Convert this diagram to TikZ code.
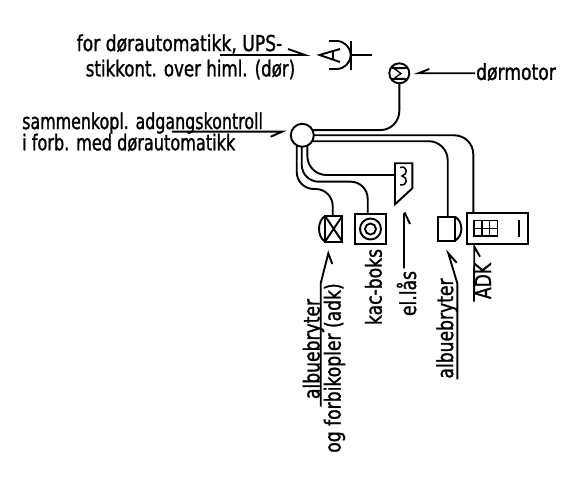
\documentclass[tikz,border=0pt]{standalone}
\usepackage{fontspec}
\setmainfont[FakeStretch=0.78,FakeBold=1.2]{DejaVu Sans}
\tikzset{
  wire/.style={line width=1.9pt,rounded corners=19pt},
  sym/.style={draw,line width=1.9pt,inner sep=0pt,outer sep=0pt},
  lead/.style={line width=1.9pt,line join=miter},
  lbl/.style={inner sep=0pt,font=\fontsize{22}{22}\selectfont},
  vlbl/.style={lbl,rotate=90}
}
\begin{document}
\begin{tikzpicture}[x=1pt,y=-1pt]
\useasboundingbox (0,0) rectangle (569,478);
% texts
\node[lbl] (t1) at (179.5,44) {for dørautomatikk, UPS-};
\node[lbl] (t2) at (190.5,69.5) {\scalebox{.97}[1]{stikkont. over himl. (dør)}};
\node[lbl,anchor=west] (t3) at (22,123) {\scalebox{.925}[1]{sammenkopl. adgangskontroll}};
\node[lbl,anchor=west] (t4) at (22,142.5) {\scalebox{.94}[1]{i forb. med dørautomatikk}};
\node[lbl] (t5) at (516,72) {dørmotor};
\node[vlbl] (t6) at (313.5,349) {albuebryter};
\node[vlbl] (t7) at (334.5,368) {og forbikopler (adk)};
\node[vlbl] (t8) at (373.5,287) {kac-boks};
\node[vlbl] (t9) at (406.5,293.5) {el.lås};
\node[vlbl] (t10) at (447,328.5) {albuebryter};
\node[vlbl] (t11) at (483,281) {ADK};
% socket
\draw[lead] (329,41) -- (336.6,41) arc (-90:90:14) -- (329,69);
\draw[lead] (350.6,41) -- (350.6,70);
\draw[lead] (350.6,55) -- (371.7,55);
\draw[lead] (340,49) -- (319.5,55) -- (340,62);
\draw[lead] (333,50.5) -- (333,60);
% motor
\node[sym,circle,minimum size=20pt] (mot) at (399.3,73.3) {};
\draw[line width=1.3pt] (392,68) -- (406.6,68) (392,79) -- (406.6,79);
\draw[line width=1.3pt] (405,68.5) -- (394,68.5) -- (401,73.5) -- (394,78.5) -- (405,78.5);
% junction
\node[sym,circle,minimum size=23pt] (j) at (302.3,135.3) {};
% X box
\node[sym,rectangle,minimum width=17.3pt,minimum height=25.7pt] (xb) at (333.7,228.8) {};
\draw[lead] (xb.north west) -- (xb.south east) (xb.north east) -- (xb.south west);
\draw[lead] (xb.north west) .. controls (317,221) and (317,236.6) .. (xb.south west);
% kac box
\node[sym,rectangle,minimum width=31pt,minimum height=30pt] (kac) at (370.5,229) {};
\node[sym,circle,minimum size=21pt] (kac1) at (kac.center) {};
\node[sym,circle,minimum size=11pt] (kac2) at (kac.center) {};
% lock
\coordinate (lock) at (395,175);
\draw[lead] (395,163.3) -- (412.3,163.3) -- (412.3,188.3) -- (395,204.3) -- cycle;
\draw[line width=1.5pt] (400,167.5) .. controls (408,165) and (408,175) .. (402,176) .. controls (408,177) and (408,186) .. (400,185);
% door-side device
\node[sym,rectangle,minimum width=17.3pt,minimum height=24pt] (alb) at (446.4,228.7) {};
\draw[lead] (alb.north east) .. controls (463.5,222) and (463.5,235.4) .. (alb.south east);
% ADK panel
\node[sym,rectangle,minimum width=61.6pt,minimum height=30.7pt] (adk) at (497.5,228.7) {};
\draw[line width=1.5pt] (474,220.7) rectangle (497.3,236);
\draw[line width=1.5pt] (474,228.3) -- (497.3,228.3) (481.8,220.7) -- (481.8,236) (489.5,220.7) -- (489.5,236);
\draw[lead] (519.3,220) -- (519.3,236.7);
% wires
\coordinate (pA) at ([xshift=-1pt]xb.north);
\coordinate (pB) at ([xshift=-2.8pt]kac.north);
\coordinate (yA) at (0,189);
\coordinate (yB) at (0,181.7);
\draw[wire] (j.27) -| (mot.south);
\draw[wire] (j.0) -| ([xshift=-24.2pt]adk.north);
\draw[wire] (j.-31) -| ([xshift=1.3pt]alb.north);
\draw[wire,rounded corners=17pt] (j.-119) |- (pA |- yA) -- (pA);
\draw[wire,rounded corners=17pt] (j.-93) |- (pB |- yB) -- (pB);
\draw[wire,rounded corners=19pt] (j.-64) |- (lock);
% leaders
\coordinate (a1) at (328.3,253.3);
\draw[lead] (320.7,406.7) -- (320.7,283.3) -- (a1) -- (332.3,264);
\coordinate (a2) at (405,213.3);
\draw[lead] (404,268.3) -- (404,214) -- (a2) -- (410,224);
\coordinate (a3) at (448.3,253.3);
\draw[lead] (457.3,379.3) -- (457.3,283.3) -- (a3) -- (456.7,262.7);
\coordinate (a4) at (474.3,246.7);
\draw[lead] (474,301.7) -- (a4) -- (480,256.7);
\coordinate (a5) at (305,55);
\draw[lead] (220,55) -- (a5) -- (288,49);
\coordinate (a6) at (282,131.7);
\draw[lead] (172,131.7) -- (a6) -- (270.7,136.7);
\coordinate (a7) at (418.3,73.3);
\draw[lead] (475,73.3) -- (a7) -- (429.3,69);
\end{tikzpicture}
\end{document}
